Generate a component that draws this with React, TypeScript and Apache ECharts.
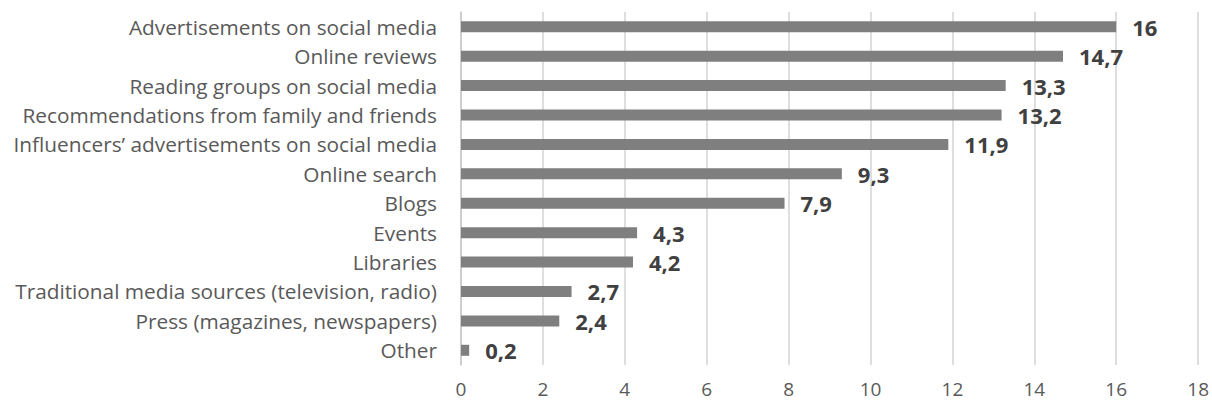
import React, { useEffect, useRef } from "react";
import * as echarts from "echarts";

const categories = [
  "Advertisements on social media",
  "Online reviews",
  "Reading groups on social media",
  "Recommendations from family and friends",
  "Influencers’ advertisements on social media",
  "Online search",
  "Blogs",
  "Events",
  "Libraries",
  "Traditional media sources (television, radio)",
  "Press (magazines, newspapers)",
  "Other",
];
const values = [16, 14.7, 13.3, 13.2, 11.9, 9.3, 7.9, 4.3, 4.2, 2.7, 2.4, 0.2];
const xTicks = [0, 2, 4, 6, 8, 10, 12, 14, 16, 18];

export default function App() {
  const ref = useRef<HTMLDivElement>(null);
  useEffect(() => {
    if (!ref.current) return;
    const chart = echarts.init(ref.current, undefined, { renderer: "svg" });
    const font = "'Open Sans', Calibri, sans-serif";
    chart.setOption({
      animation: false,
      grid: { left: 461, right: 13, top: 12, bottom: 39, containLabel: false },
      xAxis: {
        type: "value",
        min: xTicks[0],
        max: xTicks[xTicks.length - 1],
        interval: 2,
        axisLine: { show: false },
        axisTick: { show: false },
        splitLine: { show: true, lineStyle: { color: "#d3d3d3", width: 1.5 } },
        axisLabel: { color: "#595959", fontSize: 19, fontFamily: font, margin: 14 },
      },
      yAxis: {
        type: "category",
        inverse: true,
        data: categories,
        axisLine: { show: true, lineStyle: { color: "#c8c8c8", width: 1.5 } },
        axisTick: { show: false },
        axisLabel: { color: "#595959", fontSize: 20.8, fontFamily: font, margin: 24 },
      },
      series: [
        {
          type: "bar",
          data: values,
          barWidth: 11,
          itemStyle: { color: "#7f7f7f" },
          label: {
            show: true,
            position: "right",
            distance: 16,
            color: "#404040",
            fontWeight: "bold",
            fontSize: 22,
            fontFamily: font,
            formatter: (p: any) => String(p.value).replace(".", ","),
          },
        },
      ],
    });
    return () => chart.dispose();
  }, []);
  return (
    <div
      ref={ref}
      style={{ position: "absolute", left: 0, top: 0, width: 1212, height: 404 }}
    />
  );
}
